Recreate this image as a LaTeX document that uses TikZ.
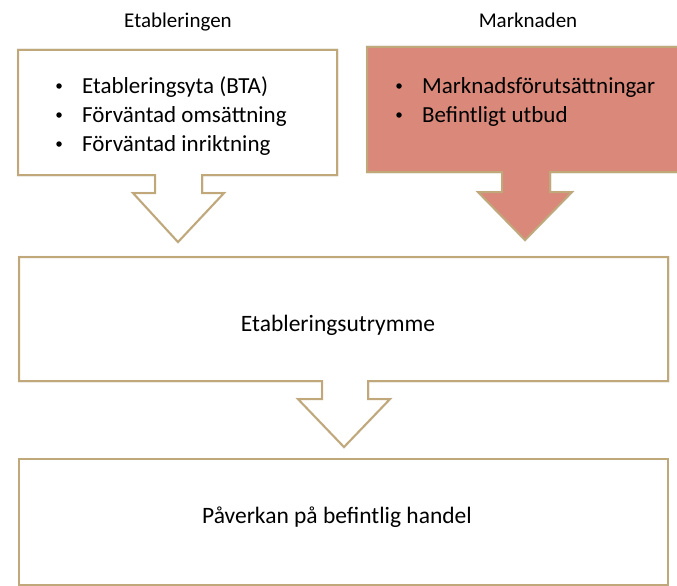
\documentclass[tikz,border=0pt]{standalone}
\usepackage{fontspec}
\setmainfont{Carlito}
\definecolor{tanline}{RGB}{192,168,122}
\definecolor{salmon}{RGB}{217,136,122}
\tikzset{
  shapeline/.style={draw=tanline, line width=2pt, line join=miter},
  shadowline/.style={draw=black!25, line width=2.5pt, opacity=0.45},
  headlabel/.style={font=\fontsize{21}{24}\selectfont, anchor=base, inner sep=0pt},
  bodytext/.style={font=\fontsize{23}{26}\selectfont, anchor=base west, inner sep=0pt},
  boxtext/.style={font=\fontsize{23.5}{26}\selectfont, anchor=base, inner sep=0pt},
  bulletdot/.style={circle, fill=black, inner sep=0pt, minimum size=5.5pt},
}
\begin{document}
\begin{tikzpicture}[x=1pt, y=-1pt]
\useasboundingbox (0,0) rectangle (677,586);
% ---------- coordinates ----------
% left callout
\coordinate (L1) at (18,50);  \coordinate (L2) at (337,50);
\coordinate (L3) at (337,175); \coordinate (L4) at (202,175);
\coordinate (L5) at (202,193); \coordinate (L6) at (224,193);
\coordinate (L7) at (178,242); \coordinate (L8) at (133,193);
\coordinate (L9) at (155,193); \coordinate (L10) at (155,175);
\coordinate (L11) at (18,175);
% right callout
\coordinate (R1) at (367,47);  \coordinate (R2) at (690,47);
\coordinate (R3) at (690,172); \coordinate (R4) at (550,172);
\coordinate (R5) at (550,192); \coordinate (R6) at (572,192);
\coordinate (R7) at (525,240); \coordinate (R8) at (478,192);
\coordinate (R9) at (502,192); \coordinate (R10) at (502,172);
\coordinate (R11) at (367,172);
% middle callout
\coordinate (M1) at (19,257);  \coordinate (M2) at (668,257);
\coordinate (M3) at (668,381); \coordinate (M4) at (368,381);
\coordinate (M5) at (368,399); \coordinate (M6) at (390,399);
\coordinate (M7) at (344,447); \coordinate (M8) at (298,399);
\coordinate (M9) at (322,399); \coordinate (M10) at (322,381);
\coordinate (M11) at (19,381);
% bottom box
\coordinate (B1) at (19,459); \coordinate (B2) at (668,585);

% ---------- shadows ----------
\begin{scope}[shift={(1.5,2)}]
\draw[shadowline] (L1) -- (L2) -- (L3) -- (L4) -- (L5) -- (L6) -- (L7) -- (L8) -- (L9) -- (L10) -- (L11) -- cycle;
\draw[shadowline] (R1) -- (R2) -- (R3) -- (R4) -- (R5) -- (R6) -- (R7) -- (R8) -- (R9) -- (R10) -- (R11) -- cycle;
\draw[shadowline] (M1) -- (M2) -- (M3) -- (M4) -- (M5) -- (M6) -- (M7) -- (M8) -- (M9) -- (M10) -- (M11) -- cycle;
\draw[shadowline] (B1) rectangle (B2);
\end{scope}

% ---------- shapes ----------
\draw[shapeline, fill=white] (L1) -- (L2) -- (L3) -- (L4) -- (L5) -- (L6) -- (L7) -- (L8) -- (L9) -- (L10) -- (L11) -- cycle;
\draw[shapeline, fill=salmon] (R1) -- (R2) -- (R3) -- (R4) -- (R5) -- (R6) -- (R7) -- (R8) -- (R9) -- (R10) -- (R11) -- cycle;
\draw[shapeline, fill=white] (M1) -- (M2) -- (M3) -- (M4) -- (M5) -- (M6) -- (M7) -- (M8) -- (M9) -- (M10) -- (M11) -- cycle;
\draw[shapeline, fill=white] (B1) rectangle (B2);

% ---------- labels ----------
\node[headlabel] (hEt) at (178,28) {Etableringen};
\node[headlabel] (hMa) at (528,28) {Marknaden};

\node[bulletdot] (b1) at (59,86) {};
\node[bodytext] (t1) at (82,93) {Etableringsyta (BTA)};
\node[bulletdot] (b2) at (59,115) {};
\node[bodytext] (t2) at (82,122) {Förväntad omsättning};
\node[bulletdot] (b3) at (59,144) {};
\node[bodytext] (t3) at (82,151) {Förväntad inriktning};

\node[bulletdot] (b4) at (399,86) {};
\node[bodytext] (t4) at (422,93) {Marknadsförutsättningar};
\node[bulletdot] (b5) at (399,115) {};
\node[bodytext] (t5) at (422,122) {Befintligt utbud};

\node[boxtext] (mid) at (338,331) {Etableringsutrymme};
\node[boxtext] (bot) at (337,523) {Påverkan på befintlig handel};
\end{tikzpicture}
\end{document}
